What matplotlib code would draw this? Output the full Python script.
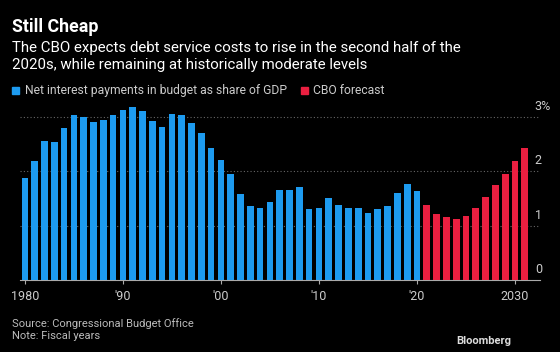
import numpy as np
import matplotlib.pyplot as plt
from matplotlib.patches import Rectangle

# net interest payments as share of GDP (%)
hist_years = list(range(1980, 2021))
hist_values = [1.87, 2.18, 2.56, 2.54, 2.80, 3.03, 2.99, 2.90, 2.95, 3.04,
               3.12, 3.18, 3.11, 2.93, 2.82, 3.06, 3.03, 2.89, 2.70, 2.42,
               2.20, 1.95, 1.58, 1.36, 1.33, 1.44, 1.66, 1.66, 1.71, 1.30,
               1.33, 1.50, 1.38, 1.33, 1.33, 1.23, 1.30, 1.36, 1.60, 1.77,
               1.64]
fc_years = list(range(2021, 2032))
fc_values = [1.38, 1.22, 1.16, 1.13, 1.17, 1.33, 1.53, 1.75, 1.95, 2.18, 2.42]

x_ticks = [1980, 1990, 2000, 2010, 2020, 2030]
x_labels = ["1980", "'90", "'00", "'10", "'20", "2030"]
y_ticks = [0, 1, 2, 3]
y_labels = ["0", "1", "2", "3%"]

blue = "#1d9bf0"
red = "#ea1f40"
bg = "black"
plt.rcParams["font.family"] = ["Roboto", "DejaVu Sans"]

fig = plt.figure(figsize=(5.6, 3.52), dpi=100, facecolor=bg)
W, H = 560, 352
ax = fig.add_axes([20 / W, 1 - 280 / H, 520 / W, 180 / H], facecolor=bg)

ax.bar(hist_years, hist_values, width=0.68, color=blue, zorder=3)
ax.bar(fc_years, fc_values, width=0.68, color=red, zorder=3)

ax.set_xlim(1979.5, 2032.55)
ax.set_ylim(0, 3.31)

for v in y_ticks[1:]:
    ax.axhline(v, color="#666666", lw=0.8, ls=(0, (1, 2)), zorder=1)
for v, lab in zip(y_ticks, y_labels):
    ax.text(0.99, v + 0.07, lab, transform=ax.get_yaxis_transform(),
            color="#cccccc", fontsize=9, ha="left", va="bottom")

ax.set_yticks([])
ax.set_xticks(x_ticks)
ax.set_xticklabels(x_labels, fontsize=9)
ax.tick_params(axis="x", colors="#aaaaaa", length=3, width=0.8, pad=4,
               labelcolor="#cccccc")
for s in ["top", "right", "left"]:
    ax.spines[s].set_visible(False)
ax.spines["bottom"].set_color("#aaaaaa")
ax.spines["bottom"].set_linewidth(0.8)

# header
fig.text(12 / W, 1 - 32 / H, "Still Cheap", color="white", fontsize=12.8,
         fontweight="bold", ha="left", va="baseline")
fig.text(12 / W, 1 - 52 / H,
         "The CBO expects debt service costs to rise in the second half of the",
         color="white", fontsize=10.8, ha="left", va="baseline")
fig.text(12 / W, 1 - 68.5 / H, "2020s, while remaining at historically moderate levels",
         color="white", fontsize=10.8, ha="left", va="baseline")

# legend
fig.add_artist(Rectangle((12 / W, 1 - 94 / H), 7 / W, 7 / H, color=blue,
                         transform=fig.transFigure))
fig.text(25 / W, 1 - 94 / H, "Net interest payments in budget as share of GDP",
         color="#cccccc", fontsize=8.7, ha="left", va="baseline")
fig.add_artist(Rectangle((301 / W, 1 - 94 / H), 7 / W, 7 / H, color=red,
                         transform=fig.transFigure))
fig.text(313 / W, 1 - 94 / H, "CBO forecast",
         color="#cccccc", fontsize=8.7, ha="left", va="baseline")

# footer
fig.text(12 / W, 1 - 327 / H, "Source: Congressional Budget Office",
         color="#bbbbbb", fontsize=8, ha="left", va="baseline")
fig.text(12 / W, 1 - 339 / H, "Note: Fiscal years",
         color="#bbbbbb", fontsize=8, ha="left", va="baseline")
fig.text(511 / W, 1 - 344 / H, "Bloomberg", color="#dddddd", fontsize=8,
         fontweight="bold", ha="right", va="baseline")

fig.savefig("out.png", dpi=100, facecolor=bg)
